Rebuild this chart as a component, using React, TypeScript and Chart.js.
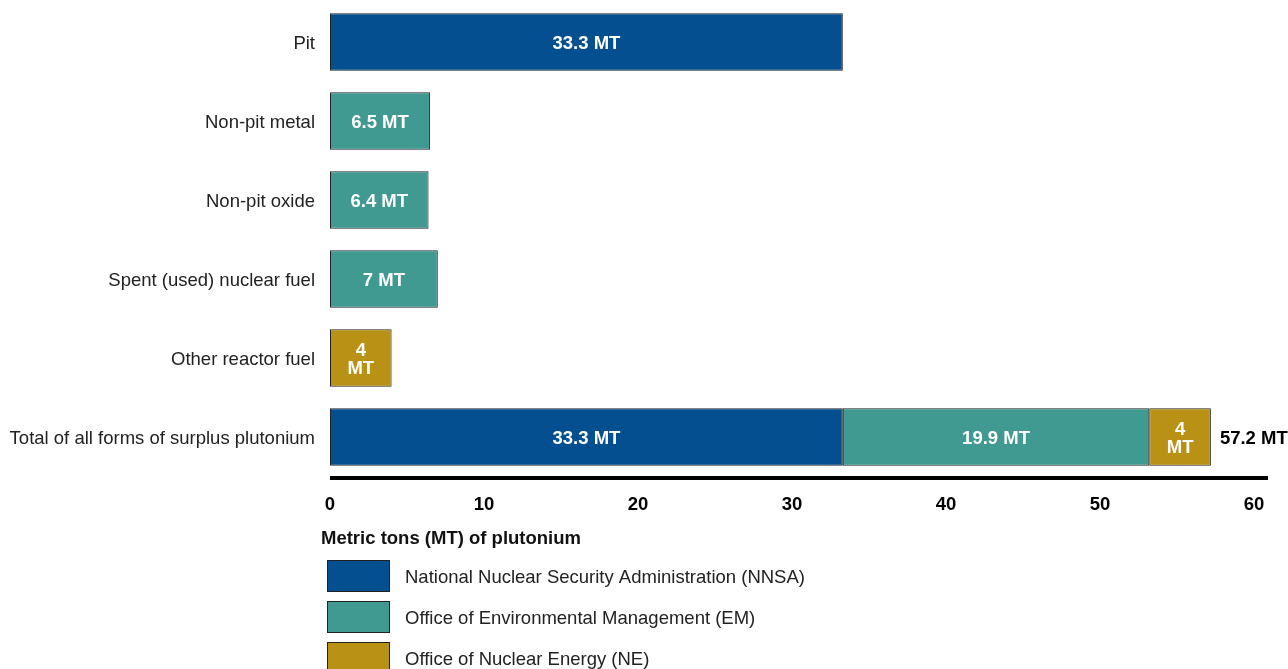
import React, { useEffect, useRef } from "react";
import { Chart, registerables } from "chart.js";

Chart.register(...registerables);

const categories = [
  "Pit",
  "Non-pit metal",
  "Non-pit oxide",
  "Spent (used) nuclear fuel",
  "Other reactor fuel",
  "Total of all forms of surplus plutonium",
];
const nnsaValues = [33.3, null, null, null, null, 33.3];
const emValues = [null, 6.5, 6.4, 7, null, 19.9];
const neValues = [null, null, null, null, 4, 4];
const seriesLabels = [
  "National Nuclear Security Administration (NNSA)",
  "Office of Environmental Management (EM)",
  "Office of Nuclear Energy (NE)",
];
const seriesColors = ["#034F8F", "#409A91", "#B99115"];
const xTitle = "Metric tons (MT) of plutonium";
const unit = "MT";

const FONT = "Arial, 'Liberation Sans', Helvetica, sans-serif";
const FS = 18.5;

const labelPlugin = {
  id: "customLabels",
  afterDatasetsDraw(chart: any) {
    const ctx = chart.ctx;
    ctx.save();
    ctx.font = `bold ${FS}px ${FONT}`;
    ctx.fillStyle = "#ffffff";
    ctx.textAlign = "center";
    ctx.textBaseline = "middle";
    chart.data.datasets.forEach((ds: any, di: number) => {
      const meta = chart.getDatasetMeta(di);
      meta.data.forEach((bar: any, i: number) => {
        const v = ds.data[i];
        if (v == null) return;
        const props = bar.getProps(["x", "y", "base"], true);
        const left = Math.min(props.x, props.base);
        const w = Math.abs(props.x - props.base);
        const cx = left + w / 2;
        const text = `${v} ${unit}`;
        if (ctx.measureText(text).width + 26 > w) {
          ctx.fillText(String(v), cx, props.y - 7);
          ctx.fillText(unit, cx, props.y + 11);
        } else {
          ctx.fillText(text, cx, props.y + 2);
        }
      });
    });
    // total label on last category
    const last = categories.length - 1;
    let total = 0;
    let maxX = 0;
    let yPos = 0;
    chart.data.datasets.forEach((ds: any, di: number) => {
      const v = ds.data[last];
      if (v != null) {
        total += v;
        const bar = chart.getDatasetMeta(di).data[last];
        const p = bar.getProps(["x", "y"], true);
        maxX = Math.max(maxX, p.x);
        yPos = p.y;
      }
    });
    ctx.fillStyle = "#000000";
    ctx.textAlign = "left";
    ctx.fillText(`${Math.round(total * 10) / 10} ${unit}`, maxX + 9, yPos + 2);
    ctx.restore();
  },
  afterDraw(chart: any) {
    const ctx = chart.ctx;
    const area = chart.chartArea;
    ctx.save();
    // axis line
    ctx.strokeStyle = "#000000";
    ctx.lineWidth = 4;
    ctx.beginPath();
    ctx.moveTo(area.left, 478);
    ctx.lineTo(area.right + 14, 478);
    ctx.stroke();
    // axis title
    ctx.font = `bold ${FS}px ${FONT}`;
    ctx.fillStyle = "#111111";
    ctx.textAlign = "left";
    ctx.textBaseline = "middle";
    ctx.fillText(xTitle, 321, 539);
    // legend
    ctx.font = `${FS}px ${FONT}`;
    seriesLabels.forEach((lab, i) => {
      const y = 560 + i * 41;
      ctx.fillStyle = seriesColors[i];
      ctx.fillRect(327, y, 63, 32);
      ctx.strokeStyle = "#222222";
      ctx.lineWidth = 1;
      ctx.strokeRect(327.5, y + 0.5, 62, 31);
      ctx.fillStyle = "#222222";
      ctx.fillText(lab, 405, y + 17.5);
    });
    ctx.restore();
  },
};

export default function App() {
  const ref = useRef<HTMLCanvasElement>(null);
  useEffect(() => {
    if (!ref.current) return;
    const dataArrays = [nnsaValues, emValues, neValues];
    const chart = new Chart(ref.current, {
      type: "bar",
      data: {
        labels: categories,
        datasets: seriesLabels.map((lab, i) => ({
          label: lab,
          data: dataArrays[i] as any,
          backgroundColor: seriesColors[i],
          borderColor: "#222222",
          borderWidth: 1,
          borderSkipped: false,
          barPercentage: 0.73,
          categoryPercentage: 1,
        })),
      },
      options: {
        indexAxis: "y",
        responsive: false,
        animation: false,
        layout: { padding: { left: 0, right: 34, top: 2.5, bottom: 152.5 } },
        plugins: { legend: { display: false }, tooltip: { enabled: false } },
        scales: {
          x: {
            stacked: true,
            min: 0,
            max: 60,
            grid: { display: false, drawTicks: false },
            border: { display: false },
            ticks: {
              stepSize: 10,
              padding: 17,
              color: "#000000",
              font: { family: FONT, size: FS, weight: "bold" },
            },
            afterFit: (s: any) => {
              s.height = 40;
              s.paddingTop = 0;
              s.paddingBottom = 0;
            },
          },
          y: {
            stacked: true,
            grid: { display: false, drawTicks: false },
            border: { display: false },
            ticks: {
              padding: 15,
              labelOffset: 2,
              color: "#222222",
              font: { family: FONT, size: FS },
            },
            afterFit: (s: any) => {
              s.width = 330;
              s.paddingTop = 0;
              s.paddingBottom = 0;
            },
          },
        },
      },
      plugins: [labelPlugin],
    });
    return () => chart.destroy();
  }, []);
  return (
    <div style={{ position: "fixed", left: 0, top: 0, width: 1288, height: 669, background: "#fff" }}>
      <canvas ref={ref} width={1288} height={669} style={{ display: "block" }} />
    </div>
  );
}
